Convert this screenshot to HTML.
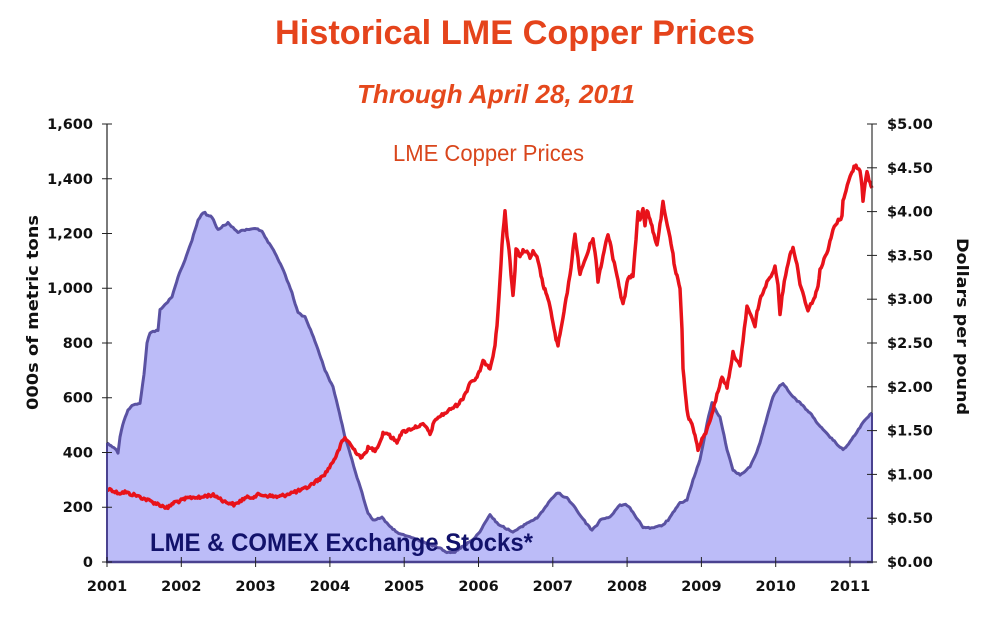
<!DOCTYPE html>
<html>
<head>
<meta charset="utf-8">
<style>
  html,body{margin:0;padding:0;background:#ffffff;}
  svg{display:block;}
  .tick{font-family:"DejaVu Sans","Liberation Sans",sans-serif;font-weight:bold;font-size:14.5px;fill:#111;}
</style>
</head>
<body>
<svg width="996" height="623" viewBox="0 0 996 623" xmlns="http://www.w3.org/2000/svg">
  <rect width="996" height="623" fill="#ffffff"/>

  <!-- Titles -->
  <text x="275" y="44" textLength="480" lengthAdjust="spacingAndGlyphs" font-family="Liberation Sans, Arial, sans-serif" font-weight="bold" font-size="34" fill="#e5441c">Historical LME Copper Prices</text>
  <text x="357" y="103" textLength="278" lengthAdjust="spacingAndGlyphs" font-family="Liberation Sans, Arial, sans-serif" font-weight="bold" font-style="italic" font-size="26" fill="#e5481c">Through April 28, 2011</text>

  <!-- Stocks area -->
  <polygon id="sfill" fill="#bcbcf8" stroke="none" points="107,562 107,443 111,446 115,448 118,453 120,437 124,420 128,410 132,405 140,403 144,375 147,343 150,333 158,330 160,310 165,305 172,297 178,277 185,260 192,240 198,220 203,213 205,213 208,216 212,217 215,224 218,230 223,226 228,223 233,228 238,232 245,230 255,228 262,232 268,242 275,253 282,267 287,280 292,293 298,313 305,317 312,333 318,350 325,370 333,387 338,407 345,437 352,460 357,477 362,493 368,513 373,520 378,519 382,517 390,527 397,532 405,536 413,538 425,543 440,548 447,552 455,552 465,545 472,540 480,532 485,522 490,515 497,523 505,528 513,532 520,528 527,523 537,518 547,505 553,497 558,493 563,496 567,498 574,506 580,515 586,523 592,530 597,525 600,520 605,518 610,517 615,511 620,505 627,505 633,512 638,520 643,527 650,528 657,527 663,525 668,520 673,513 680,503 687,500 693,480 700,460 704,440 707,423 712,402 717,413 720,417 724,435 727,450 733,470 740,475 745,471 750,467 755,456 760,443 767,417 773,397 778,388 783,383 788,390 793,397 800,403 810,413 816,421 823,430 833,440 843,450 850,442 855,435 860,427 865,420 870,415 872,413 872,562"/>
  <polyline id="sline" fill="none" stroke="#5a52a2" stroke-width="3" stroke-linejoin="round" points="107,443 111,446 115,448 118,453 120,437 124,420 128,410 132,405 140,403 144,375 147,343 150,333 158,330 160,310 165,305 172,297 178,277 185,260 192,240 198,220 203,213 205,213 208,216 212,217 215,224 218,230 223,226 228,223 233,228 238,232 245,230 255,228 262,232 268,242 275,253 282,267 287,280 292,293 298,313 305,317 312,333 318,350 325,370 333,387 338,407 345,437 352,460 357,477 362,493 368,513 373,520 378,519 382,517 390,527 397,532 405,536 413,538 425,543 440,548 447,552 455,552 465,545 472,540 480,532 485,522 490,515 497,523 505,528 513,532 520,528 527,523 537,518 547,505 553,497 558,493 563,496 567,498 574,506 580,515 586,523 592,530 597,525 600,520 605,518 610,517 615,511 620,505 627,505 633,512 638,520 643,527 650,528 657,527 663,525 668,520 673,513 680,503 687,500 693,480 700,460 704,440 707,423 712,402 717,413 720,417 724,435 727,450 733,470 740,475 745,471 750,467 755,456 760,443 767,417 773,397 778,388 783,383 788,390 793,397 800,403 810,413 816,421 823,430 833,440 843,450 850,442 855,435 860,427 865,420 870,415 872,413"/>

  <!-- Stocks label -->
  <text x="150" y="551" textLength="383" lengthAdjust="spacingAndGlyphs" font-family="Liberation Sans, Arial, sans-serif" font-weight="bold" font-size="25" fill="#12126b">LME &amp; COMEX Exchange Stocks*</text>

  <!-- Price line -->
  <polyline id="pline" fill="none" stroke="#e8121a" stroke-width="3.5" stroke-linejoin="round" points="107,490 111,489 115,492 120,493 125,492 130,494 135,495 140,497 145,499 150,501 155,503 160,505 165,507 168,508 172,504 175,502 180,501 188,498 195,497 200,498 205,496 212,495 218,497 225,502 230,503 235,505 240,501 245,498 252,497 258,495 262,495 270,496 278,497 285,495 290,493 295,492 302,490 308,487 315,482 322,477 327,471 332,463 335,458 338,452 342,442 345,438 348,441 352,447 357,453 362,458 365,453 368,448 372,449 375,450 380,442 383,433 387,433 392,438 397,442 400,435 403,432 408,430 413,428 418,426 423,425 427,428 430,435 433,425 437,418 442,415 447,412 452,408 457,405 460,402 463,398 467,390 470,382 474,380 477,378 480,370 483,362 487,364 490,368 493,355 495,345 497,325 498,312 500,280 502,245 504,222 505,212 506,225 507,235 509,250 510,262 512,285 513,295 515,270 516,248 518,252 520,258 523,250 527,252 530,258 533,252 537,258 540,270 543,285 545,290 547,295 550,308 553,322 556,340 558,345 560,335 563,318 566,300 570,275 573,250 575,235 577,250 580,275 583,265 587,255 590,245 593,238 596,260 598,282 600,270 602,262 605,245 608,235 611,245 613,258 617,275 620,292 623,305 626,290 628,278 633,275 636,240 638,212 640,220 643,208 645,225 647,210 650,220 652,227 655,238 657,245 660,225 663,203 666,220 670,237 673,255 675,270 678,280 680,290 682,330 683,367 686,400 688,417 690,420 693,427 696,440 698,450 702,440 707,430 710,420 713,410 717,395 722,377 725,383 727,387 730,370 733,353 737,360 740,367 743,340 747,307 751,315 755,327 757,312 760,300 763,292 767,283 771,275 775,267 778,285 780,313 783,290 787,267 790,255 793,247 797,265 800,283 804,297 808,310 812,302 815,297 818,285 820,270 824,260 828,250 831,238 833,230 837,222 842,217 843,200 846,190 850,177 853,170 855,165 858,168 860,170 862,185 863,200 865,185 867,173 869,180 872,188"/>

  <text x="393" y="161" textLength="191" lengthAdjust="spacingAndGlyphs" font-family="Liberation Sans, Arial, sans-serif" font-size="23" fill="#d9461c">LME Copper Prices</text>

  <!-- Axes -->
  <line x1="107" y1="124" x2="107" y2="563" stroke="#222" stroke-width="1.2"/>
  <line x1="107" y1="443" x2="107" y2="563" stroke="#4a4290" stroke-width="2"/>
  <line x1="872" y1="124" x2="872" y2="563" stroke="#333" stroke-width="1.2"/>
  <line x1="872" y1="413" x2="872" y2="563" stroke="#4a4290" stroke-width="2"/>
  <line x1="106" y1="562" x2="873" y2="562" stroke="#4a4290" stroke-width="2.5"/>

  <!-- Left ticks -->
  <g stroke="#222" stroke-width="1">
    <line x1="102" y1="124" x2="112" y2="124"/>
    <line x1="102" y1="178.75" x2="112" y2="178.75"/>
    <line x1="102" y1="233.5" x2="112" y2="233.5"/>
    <line x1="102" y1="288.25" x2="112" y2="288.25"/>
    <line x1="102" y1="343" x2="112" y2="343"/>
    <line x1="102" y1="397.75" x2="112" y2="397.75"/>
    <line x1="102" y1="452.5" x2="112" y2="452.5"/>
    <line x1="102" y1="507.25" x2="112" y2="507.25"/>
    <line x1="102" y1="562" x2="112" y2="562"/>
  </g>
  <g class="tick" text-anchor="end">
    <text x="93" y="129">1,600</text>
    <text x="93" y="184">1,400</text>
    <text x="93" y="238.5">1,200</text>
    <text x="93" y="293">1,000</text>
    <text x="93" y="348">800</text>
    <text x="93" y="402.5">600</text>
    <text x="93" y="457.5">400</text>
    <text x="93" y="512">200</text>
    <text x="93" y="567">0</text>
  </g>

  <!-- Right ticks -->
  <g stroke="#222" stroke-width="1">
    <line x1="867" y1="124" x2="877" y2="124"/>
    <line x1="867" y1="167.8" x2="877" y2="167.8"/>
    <line x1="867" y1="211.6" x2="877" y2="211.6"/>
    <line x1="867" y1="255.4" x2="877" y2="255.4"/>
    <line x1="867" y1="299.2" x2="877" y2="299.2"/>
    <line x1="867" y1="343" x2="877" y2="343"/>
    <line x1="867" y1="386.8" x2="877" y2="386.8"/>
    <line x1="867" y1="430.6" x2="877" y2="430.6"/>
    <line x1="867" y1="474.4" x2="877" y2="474.4"/>
    <line x1="867" y1="518.2" x2="877" y2="518.2"/>
    <line x1="867" y1="562" x2="877" y2="562"/>
  </g>
  <g class="tick" text-anchor="start">
    <text x="887" y="129">$5.00</text>
    <text x="887" y="173">$4.50</text>
    <text x="887" y="216.5">$4.00</text>
    <text x="887" y="260.5">$3.50</text>
    <text x="887" y="304">$3.00</text>
    <text x="887" y="348">$2.50</text>
    <text x="887" y="392">$2.00</text>
    <text x="887" y="435.5">$1.50</text>
    <text x="887" y="479.5">$1.00</text>
    <text x="887" y="523">$0.50</text>
    <text x="887" y="567">$0.00</text>
  </g>

  <!-- X ticks -->
  <g stroke="#222" stroke-width="1">
    <line x1="107" y1="557" x2="107" y2="567"/>
    <line x1="181.3" y1="557" x2="181.3" y2="567"/>
    <line x1="255.6" y1="557" x2="255.6" y2="567"/>
    <line x1="329.9" y1="557" x2="329.9" y2="567"/>
    <line x1="404.2" y1="557" x2="404.2" y2="567"/>
    <line x1="478.5" y1="557" x2="478.5" y2="567"/>
    <line x1="552.8" y1="557" x2="552.8" y2="567"/>
    <line x1="627.1" y1="557" x2="627.1" y2="567"/>
    <line x1="701.4" y1="557" x2="701.4" y2="567"/>
    <line x1="775.7" y1="557" x2="775.7" y2="567"/>
    <line x1="850" y1="557" x2="850" y2="567"/>
  </g>
  <g class="tick" text-anchor="middle">
    <text x="107" y="591">2001</text>
    <text x="181.3" y="591">2002</text>
    <text x="255.6" y="591">2003</text>
    <text x="329.9" y="591">2004</text>
    <text x="404.2" y="591">2005</text>
    <text x="478.5" y="591">2006</text>
    <text x="552.8" y="591">2007</text>
    <text x="627.1" y="591">2008</text>
    <text x="701.4" y="591">2009</text>
    <text x="775.7" y="591">2010</text>
    <text x="850" y="591">2011</text>
  </g>

  <!-- Axis titles -->
  <text transform="translate(38,312.5) rotate(-90)" text-anchor="middle" textLength="195" lengthAdjust="spacingAndGlyphs" font-family="DejaVu Sans, Liberation Sans, sans-serif" font-weight="bold" font-size="16" fill="#111">000s of metric tons</text>
  <text transform="translate(957,326.5) rotate(90)" text-anchor="middle" textLength="177" lengthAdjust="spacingAndGlyphs" font-family="DejaVu Sans, Liberation Sans, sans-serif" font-weight="bold" font-size="16" fill="#111">Dollars per pound</text>
</svg>
<script>
(function(){
  var seed = 12345;
  function rnd(){ seed = (seed*1103515245 + 12345) % 2147483648; return seed/2147483648; }
  function parse(el){
    return el.getAttribute('points').trim().split(/\s+/).map(function(p){var a=p.split(',');return [parseFloat(a[0]),parseFloat(a[1])];});
  }
  function densify(pts, step, amp){
    var out=[];
    for(var i=0;i<pts.length-1;i++){
      var a=pts[i], b=pts[i+1];
      var dx=b[0]-a[0], dy=b[1]-a[1];
      var n=Math.max(1, Math.round(Math.abs(dx)/step));
      for(var k=0;k<n;k++){
        var t=k/n;
        var x=a[0]+dx*t, y=a[1]+dy*t;
        if(i>0||k>0){ y += (rnd()-0.5)*2*amp; }
        out.push([x,y]);
      }
    }
    out.push(pts[pts.length-1]);
    return out;
  }
  function str(pts){ return pts.map(function(p){return p[0].toFixed(1)+','+p[1].toFixed(1);}).join(' '); }
  try{
    var p=document.getElementById('pline');
    p.setAttribute('points', str(densify(parse(p),1.2,1.6)));
    var s=document.getElementById('sline');
    var sp=densify(parse(s),1.5,0.7);
    s.setAttribute('points', str(sp));
    var f=document.getElementById('sfill');
    var fp=[[107,562]].concat(sp).concat([[872,562]]);
    f.setAttribute('points', str(fp));
  }catch(e){}
})();
</script>
</body>
</html>
